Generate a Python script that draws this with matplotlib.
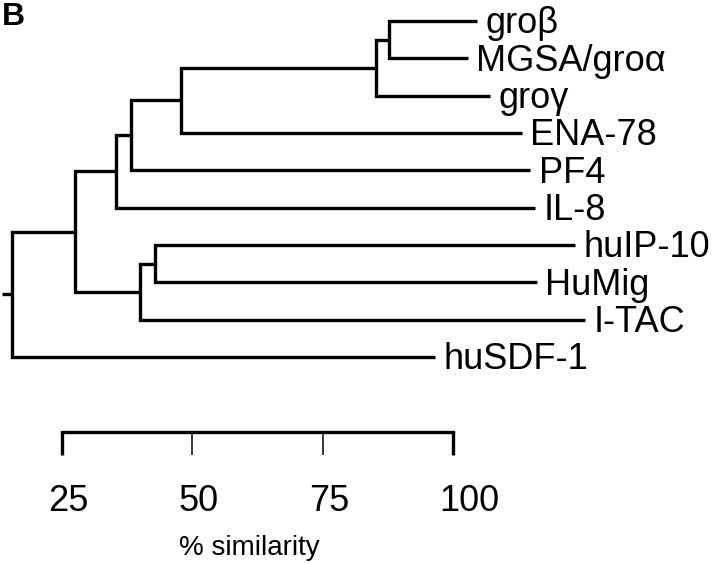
import matplotlib.pyplot as plt

plt.rcParams['font.family'] = ['Liberation Sans', 'DejaVu Sans']

# leaves, top to bottom
leaves = ['groβ', 'MGSA/groα', 'groγ', 'ENA-78', 'PF4', 'IL-8',
          'huIP-10', 'HuMig', 'I-TAC', 'huSDF-1']
# where each leaf line ends (% similarity units, as drawn)
leaf_end = [104.6, 102.9, 107.1, 113.2, 114.8, 115.7, 123.4, 116.1, 125.3, 96.6]

# merges: (left child, right child, height in % similarity)
# children < 10 are leaves, >= 10 are earlier merges
merges = [
    (0, 1, 87.7),    # 10 groβ + MGSA
    (10, 2, 85.2),   # 11 + groγ
    (11, 3, 47.8),   # 12 + ENA-78
    (12, 4, 38.2),   # 13 + PF4
    (13, 5, 35.4),   # 14 + IL-8
    (6, 7, 42.8),    # 15 huIP-10 + HuMig
    (15, 8, 40.0),   # 16 + I-TAC
    (14, 16, 27.5),  # 17
    (17, 9, 15.4),   # 18 root
]

scale_ticks = [25, 50, 75, 100]

fig = plt.figure(figsize=(7.2, 5.64), dpi=100)
ax = fig.add_axes([0, 0, 1, 1])
ax.set_xlim(13.11, 151.2)
ax.set_ylim(14.545, -0.5625)
ax.axis('off')

lw = 2.4
pos = {i: (leaf_end[i], float(i)) for i in range(len(leaves))}
for k, (a, b, h) in enumerate(merges):
    xa, ya = pos[a]
    xb, yb = pos[b]
    ax.plot([xa, h, h, xb], [ya, ya, yb, yb], color='black', lw=lw,
            solid_joinstyle='miter', solid_capstyle='butt')
    pos[len(leaves) + k] = (h, (ya + yb) / 2)

# root stub
rx, ry = pos[len(leaves) + len(merges) - 1]
ax.plot([rx - 2, rx], [ry, ry], color='black', lw=lw, solid_capstyle='butt')

for i, name in enumerate(leaves):
    ax.annotate(name, (leaf_end[i], i), xytext=(6, -9), textcoords='offset points',
                fontsize=26, ha='left', va='baseline')

# scale bar
bar_y = 11.01
ax.plot([scale_ticks[0], scale_ticks[-1]], [bar_y, bar_y], color='black', lw=lw,
        solid_capstyle='projecting')
for t in scale_ticks:
    end = t in (scale_ticks[0], scale_ticks[-1])
    ax.plot([t, t], [bar_y, bar_y + 0.62], color='black', lw=lw if end else 1.1,
            solid_capstyle='butt')
    ax.text(t - 2.6, 13.13, str(t), fontsize=26, ha='left', va='baseline')

ax.text(61, 14.3, '% similarity', fontsize=20, ha='center', va='baseline')

fig.text(0.003, 1 - 25 / 564, 'B', fontsize=23, fontweight='bold', ha='left', va='baseline')

fig.savefig('out.png', dpi=100)
